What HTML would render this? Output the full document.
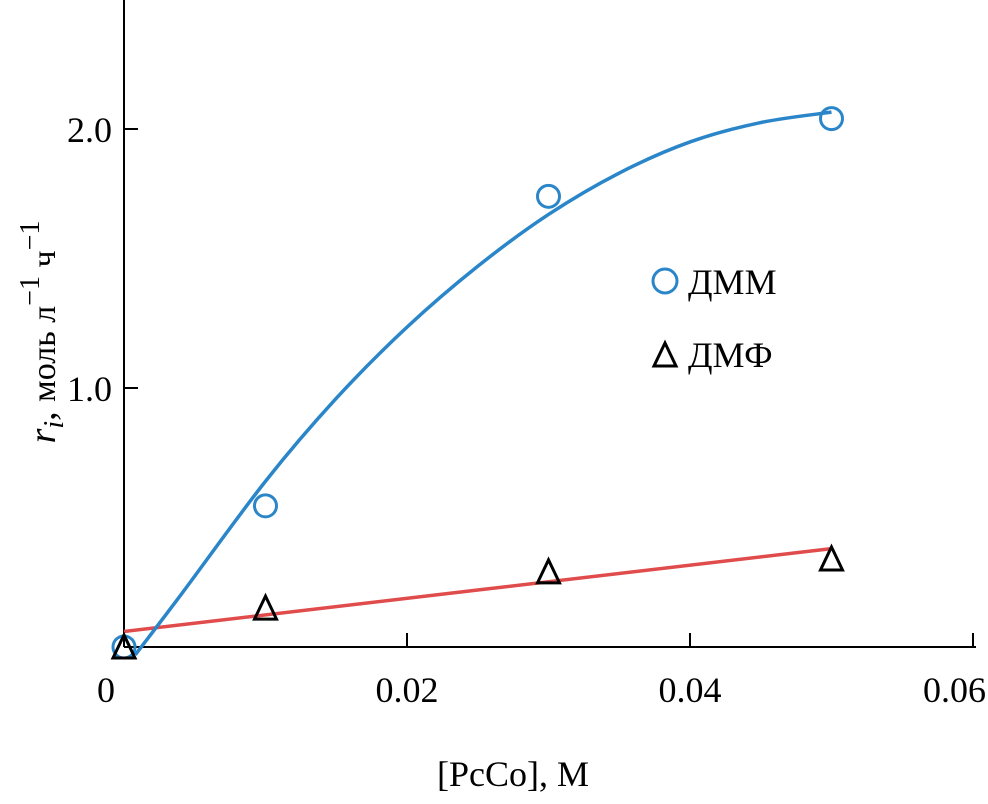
<!DOCTYPE html>
<html><head><meta charset="utf-8"><style>
html,body{margin:0;padding:0;background:#fff;}
svg{display:block;font-family:"Liberation Serif",serif;}
</style></head><body>
<svg id="chart" width="988" height="804">
<g id="axes"></g>
<g id="marks"></g>
<g>
 <circle cx="665" cy="281" r="12" fill="none" stroke="#2a86c9" stroke-width="3"/>
 <text x="688" y="294" font-size="36">ДММ</text>
 <path d="M665,343 L654,366 L676,366 Z" fill="none" stroke="#000" stroke-width="3"/>
 <text x="688" y="367" font-size="36">ДМФ</text>
</g>
<text x="513" y="786" font-size="36" text-anchor="middle">[PcCo], М</text>
<text transform="translate(55,332) rotate(-90)" font-size="38" text-anchor="middle"><tspan font-style="italic">r</tspan><tspan font-style="italic" font-size="28" dy="8">i</tspan><tspan dy="-8">, </tspan><tspan font-size="34">моль л</tspan><tspan font-size="28" dy="-16">−1</tspan><tspan font-size="34" dy="16"> ч</tspan><tspan font-size="28" dy="-16">−1</tspan></text>
</svg>
<script>
const xTicks=[0,0.02,0.04,0.06];
const xTickLabels=["0","0.02","0.04","0.06"];
const yTicks=[1.0,2.0];
const yTickLabels=["1.0","2.0"];
const dmmX=[0.0,0.01,0.03,0.05];
const dmmY=[0.0,0.545,1.74,2.04];
const dmfX=[0.0,0.01,0.03,0.05];
const dmfY=[0.0,0.15,0.29,0.34];
const fitDmmX=[0.0008,0.004,0.01,0.015,0.02,0.025,0.03,0.035,0.04,0.045,0.05];
const fitDmmY=[-0.03,0.2,0.64,0.96,1.235,1.47,1.67,1.83,1.95,2.025,2.065];
const fitDmfX=[0,0.05];
const fitDmfY=[0.06,0.38];

const NS="http://www.w3.org/2000/svg";
const X=v=>124+v/0.01*141.5;
const Y=v=>647-v*259;
function mk(parent,tag,attrs){const e=document.createElementNS(NS,tag);for(const k in attrs)e.setAttribute(k,attrs[k]);parent.appendChild(e);return e;}
const axes=document.getElementById('axes'),marks=document.getElementById('marks');
let e;
e=mk(axes,'line',{x1:124,y1:0,x2:124,y2:647,stroke:'#000','stroke-width':2});


e=mk(axes,'line',{x1:124,y1:647,x2:976,y2:647,stroke:'#000','stroke-width':2});


xTicks.forEach((v,i)=>{
 const t=mk(axes,'line',{x1:X(v),y1:647,x2:X(v),y2:633,stroke:'#000','stroke-width':2});
 
 
 const last=i==xTicks.length-1;
 const l=mk(axes,'text',{x:last?986:X(v)+(i==0?-18:0),y:702,'font-size':36,'text-anchor':last?'end':'middle'});l.textContent=xTickLabels[i];
 
 
});
yTicks.forEach((v,i)=>{
 const t=mk(axes,'line',{x1:124,y1:Y(v),x2:138,y2:Y(v),stroke:'#000','stroke-width':2});
 
 
 const l=mk(axes,'text',{x:112,y:Y(v)+13,'font-size':36,'text-anchor':'end'});l.textContent=yTickLabels[i];
 
 
});
function smooth(xs,ys){const p=xs.map((x,i)=>[X(x),Y(ys[i])]);let d='M'+p[0][0]+','+p[0][1];
 for(let i=0;i<p.length-1;i++){const p0=p[Math.max(0,i-1)],p1=p[i],p2=p[i+1],p3=p[Math.min(p.length-1,i+2)];
 d+=' C'+(p1[0]+(p2[0]-p0[0])/6)+','+(p1[1]+(p2[1]-p0[1])/6)+' '+(p2[0]-(p3[0]-p1[0])/6)+','+(p2[1]-(p3[1]-p1[1])/6)+' '+p2[0]+','+p2[1];}
 return d;}
e=mk(marks,'path',{d:smooth(fitDmfX,fitDmfY),fill:'none',stroke:'#e04b4b','stroke-width':3.5});


e=mk(marks,'path',{d:smooth(fitDmmX,fitDmmY),fill:'none',stroke:'#2a86c9','stroke-width':3.5});


dmmX.forEach((x,i)=>{
 const c=mk(marks,'circle',{cx:X(x),cy:Y(dmmY[i]),r:11,fill:'none',stroke:'#2a86c9','stroke-width':3});
 
 
});
dmfX.forEach((x,i)=>{
 const cx=X(x),cy=Y(dmfY[i]);
 const t=mk(marks,'path',{d:`M${cx},${cy-12} L${cx-11},${cy+11} L${cx+11},${cy+11} Z`,fill:'none',stroke:'#000','stroke-width':3});
 
 
});
</script>
</body></html>
